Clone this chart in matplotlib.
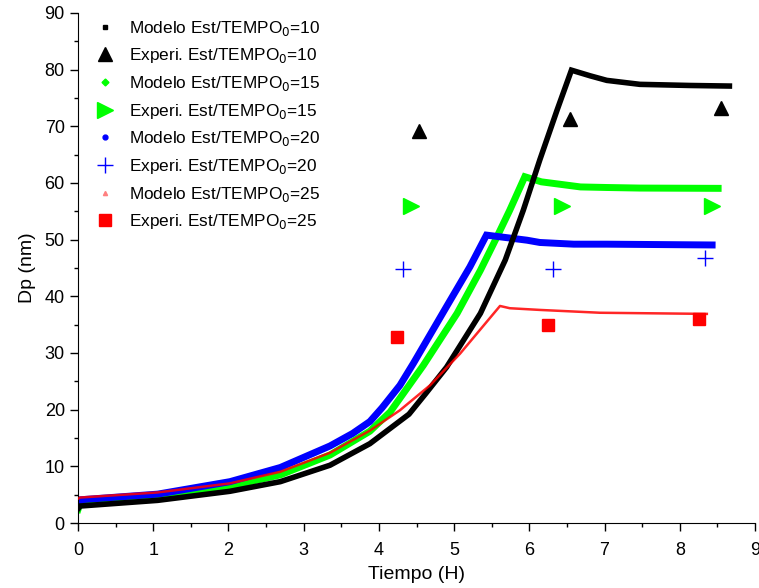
import matplotlib
matplotlib.use("Agg")
import matplotlib.pyplot as plt
from matplotlib.ticker import MultipleLocator
from matplotlib.lines import Line2D

plt.rcParams['font.family'] = ['Liberation Sans', 'DejaVu Sans']

# Model curves
x_m10 = [0.0, 0.03, 1.06, 2.02, 2.69, 3.35, 3.88, 4.40, 4.62, 4.90, 5.35, 5.68, 5.92, 6.14, 6.37, 6.56,
         6.81, 7.03, 7.47, 8.14, 8.66]
y_m10 = [2.5, 3.0, 4.0, 5.6, 7.3, 10.2, 14.0, 19.2, 22.8, 27.5, 37.0, 46.4, 55.2, 64.1, 72.9, 79.9,
         78.9, 78.1, 77.4, 77.2, 77.1]

x_m15 = [0.0, 0.03, 1.06, 2.02, 2.69, 3.35, 3.88, 4.15, 4.59, 5.04, 5.35, 5.57, 5.74, 5.94,
         6.16, 6.68, 7.03, 7.47, 8.51]
y_m15 = [2.4, 3.6, 4.6, 6.5, 8.5, 12.0, 16.2, 19.6, 27.8, 37.0, 44.6, 50.5, 55.2, 61.1,
         60.2, 59.3, 59.2, 59.1, 59.05]

x_m20 = [0.0, 0.03, 1.06, 2.02, 2.69, 3.35, 3.65, 3.88, 4.04, 4.28, 4.46, 4.90, 5.21, 5.43,
         5.97, 6.14, 6.59, 7.03, 8.43]
y_m20 = [3.0, 4.1, 5.1, 7.3, 9.8, 13.6, 15.8, 17.9, 20.3, 24.3, 28.2, 38.2, 45.2, 50.8,
         49.9, 49.5, 49.2, 49.2, 49.06]

x_m25 = [0.0, 0.03, 1.06, 2.02, 2.69, 3.35, 3.88, 4.28, 4.68, 5.08, 5.61, 5.74, 6.14, 6.94, 8.36]
y_m25 = [4.3, 4.5, 5.4, 7.0, 9.05, 12.4, 16.3, 19.9, 24.3, 29.9, 38.3, 37.9, 37.6, 37.1, 36.9]

# Experimental points
x_e10 = [4.53, 6.54, 8.55]
y_e10 = [69.2, 71.3, 73.2]
x_e15 = [4.43, 6.43, 8.43]
y_e15 = [56.0, 56.0, 56.0]
x_e20 = [4.32, 6.32, 8.33]
y_e20 = [44.8, 44.8, 46.8]
x_e25 = [4.24, 6.25, 8.26]
y_e25 = [32.9, 34.9, 36.0]

labels = ["Modelo Est/TEMPO$_0$=10", "Experi. Est/TEMPO$_0$=10",
          "Modelo Est/TEMPO$_0$=15", "Experi. Est/TEMPO$_0$=15",
          "Modelo Est/TEMPO$_0$=20", "Experi. Est/TEMPO$_0$=20",
          "Modelo Est/TEMPO$_0$=25", "Experi. Est/TEMPO$_0$=25"]

fig = plt.figure(figsize=(7.59, 5.88), dpi=100)
ax = fig.add_axes([0.1028, 0.1105, 0.8919, 0.8675])

GREEN = '#00ff00'
BLUE = '#0000ff'
RED = '#ff0000'

ax.plot(x_m10, y_m10, color='black', lw=4, solid_joinstyle='miter', zorder=3)
ax.plot(x_m15, y_m15, color=GREEN, lw=5, solid_joinstyle='miter', zorder=2)
ax.plot(x_m20, y_m20, color=BLUE, lw=5, solid_joinstyle='miter', zorder=2)
ax.plot(x_m25, y_m25, color=RED, lw=1.8, alpha=0.85, zorder=4)

ax.plot(x_e10, y_e10, ls='none', marker='^', ms=10, color='black', zorder=5)
ax.plot(x_e15, y_e15, ls='none', marker='>', ms=11, color=GREEN, zorder=5)
ax.plot(x_e20, y_e20, ls='none', marker='+', ms=11, mew=1, color=BLUE, zorder=5)
ax.plot(x_e25, y_e25, ls='none', marker='s', ms=8, color=RED, zorder=5)

handles = [
    Line2D([], [], ls='none', marker='s', ms=3.5, color='black'),
    Line2D([], [], ls='none', marker='^', ms=10, color='black'),
    Line2D([], [], ls='none', marker='D', ms=3.5, color=GREEN),
    Line2D([], [], ls='none', marker='>', ms=11, color=GREEN),
    Line2D([], [], ls='none', marker='o', ms=3.5, color=BLUE),
    Line2D([], [], ls='none', marker='+', ms=11, mew=1, color=BLUE),
    Line2D([], [], ls='none', marker='^', ms=3, color='#ff8080'),
    Line2D([], [], ls='none', marker='s', ms=8, color=RED),
]
ax.legend(handles, labels, loc='upper left', bbox_to_anchor=(0.002, 1.012), frameon=False,
          fontsize=12.4, labelspacing=0.5, handletextpad=0.6, borderaxespad=0.3,
          handlelength=1.6)

ax.set_xlim(0, 9)
ax.set_ylim(0, 90)
ax.xaxis.set_major_locator(MultipleLocator(1))
ax.xaxis.set_minor_locator(MultipleLocator(0.5))
ax.yaxis.set_major_locator(MultipleLocator(10))
ax.yaxis.set_minor_locator(MultipleLocator(5))
ax.tick_params(which='major', direction='out', length=6, width=1, labelsize=13)
ax.tick_params(axis='x', which='major', pad=8)
ax.tick_params(which='minor', direction='out', length=3, width=1)
ax.spines['top'].set_visible(False)
ax.spines['right'].set_visible(False)
ax.set_xlabel('Tiempo (H)', fontsize=14, labelpad=5)
ax.set_ylabel('Dp (nm)', fontsize=14, labelpad=6)

fig.savefig('out.png', dpi=100)
